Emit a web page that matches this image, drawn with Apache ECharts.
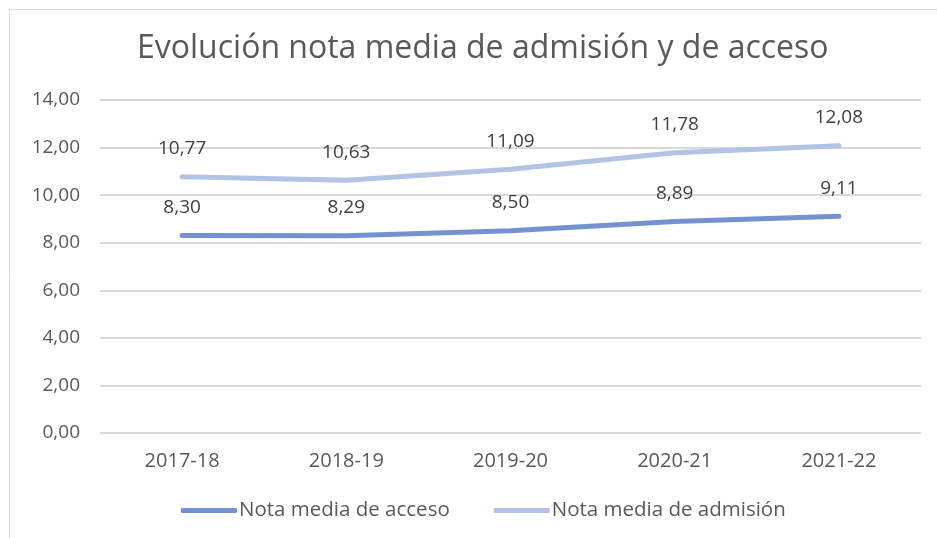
<!DOCTYPE html>
<html><head><meta charset="utf-8">
<script src="https://cdn.jsdelivr.net/npm/echarts@6/dist/echarts.min.js"></script>
<style>html,body{margin:0;padding:0;background:#fff}#c{width:937px;height:538px}</style>
</head><body><div id="c"></div>
<script>
const categories = ['2017-18','2018-19','2019-20','2020-21','2021-22'];
const acceso = [8.30, 8.29, 8.50, 8.89, 9.11];
const admision = [10.77, 10.63, 11.09, 11.78, 12.08];
const seriesNames = ['Nota media de acceso','Nota media de admisión'];
const titleText = 'Evolución nota media de admisión y de acceso';

const fmt = v => Number(v).toFixed(2).replace('.', ',');
const font = '"Open Sans", "Noto Sans", sans-serif';
const chart = echarts.init(document.getElementById('c'));
const lbl = {show:true, position:'top', distance:18, color:'#404040', fontSize:19, fontFamily:font, formatter:p=>fmt(p.value)};
chart.setOption({
  animation:false,
  title:{text:titleText, left:132, top:28, textStyle:{color:'#595959', fontSize:32, fontWeight:'normal', fontFamily:font}},
  graphic:[
    {type:'line', shape:{x1:9,y1:9.5,x2:937,y2:9.5}, style:{stroke:'#d9d9d9', lineWidth:1}},
    {type:'line', shape:{x1:9.5,y1:9,x2:9.5,y2:538}, style:{stroke:'#d9d9d9', lineWidth:1}}
  ],
  grid:{left:100, right:16, top:100, height:333},
  legend:{top:495, left:176, itemWidth:56, itemHeight:5, itemGap:44, icon:'roundRect',
    textStyle:{color:'#595959', fontSize:20.5, fontFamily:font, padding:[0,0,0,-3]}, data:seriesNames},
  xAxis:{type:'category', data:categories, boundaryGap:true,
    axisLine:{show:true, lineStyle:{color:'#d9d9d9'}}, axisTick:{show:false},
    axisLabel:{color:'#595959', fontSize:20, fontFamily:font, margin:18}},
  yAxis:{type:'value', min:0, max:14, interval:2,
    axisLine:{show:false}, axisTick:{show:false},
    splitLine:{lineStyle:{color:'#d9d9d9', width:2}},
    axisLabel:{color:'#595959', fontSize:19, fontFamily:font, margin:20, formatter:v=>fmt(v)}},
  series:[
    {name:seriesNames[0], type:'line', data:acceso, showSymbol:true, symbol:'circle', symbolSize:1,
      lineStyle:{color:'#7592d0', width:5, cap:'round', join:'round'}, itemStyle:{color:'#7592d0'}, label:lbl},
    {name:seriesNames[1], type:'line', data:admision, showSymbol:true, symbol:'circle', symbolSize:1,
      lineStyle:{color:'#b4c2e6', width:5, cap:'round', join:'round'}, itemStyle:{color:'#b4c2e6'}, label:lbl}
  ]
});
</script></body></html>
